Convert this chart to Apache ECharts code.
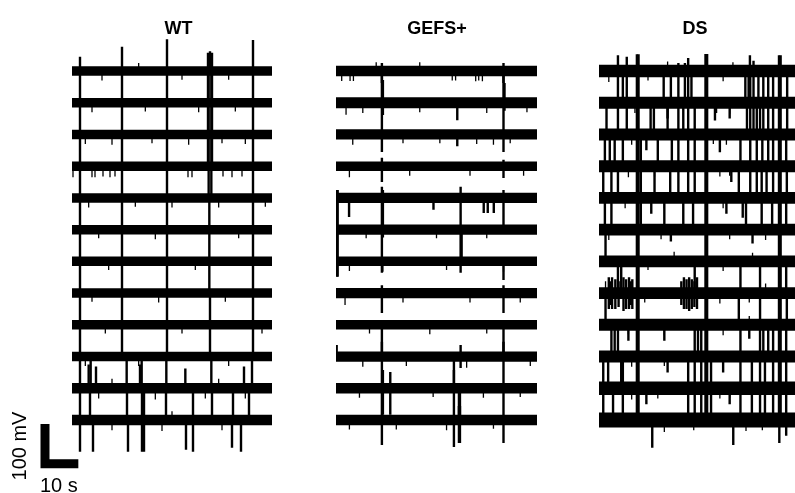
<!DOCTYPE html>
<html><head><meta charset="utf-8">
<script src="https://cdn.jsdelivr.net/npm/echarts/dist/echarts.min.js"></script>
<style>html,body{margin:0;padding:0;background:#fff}#c{width:795px;height:493px}</style>
</head><body><div id="c"></div>
<script>
// ---------------- DATA ----------------
const panelTitles = ['WT', 'GEFS+', 'DS'];
const ROW_STEP = 80;        // mV offset between stacked traces
const DURATION = 60;        // s per trace
const N_ROWS = 12;
const scaleBarMV = 100;
const scaleBarS = 10;
const scaleLabels = ['100 mV', '10 s'];

// half peak-to-peak noise of each trace (mV)
const wtNoise   = [12, 12, 12, 12, 12, 12, 12, 12, 12, 12, 13, 13];
const gefsNoise = [13, 14, 13, 12, 13, 13, 12, 13, 12, 13, 13, 13];
const dsNoise   = [16, 15, 15, 15, 15, 15, 15, 15, 15, 15, 17, 19];

// spike times (s) that span the whole gap between trace i and trace i+1
const wtGapSpikes = [
  [2.4, 15.0, 28.5, 41.0, 41.8, 54.3],
  [2.4, 15.0, 28.5, 41.0, 41.8, 54.3],
  [2.4, 15.0, 28.5, 41.0, 41.8, 54.3],
  [2.4, 15.0, 28.5, 41.0, 41.8, 54.3],
  [2.4, 15.0, 28.5, 41.2, 54.3],
  [2.4, 15.0, 28.5, 41.2, 54.3],
  [2.4, 15.0, 28.5, 41.2, 54.3],
  [2.4, 15.0, 28.5, 41.4, 54.3],
  [2.4, 15.0, 28.5, 41.4, 54.3],
  [2.4, 5.6, 16.4, 20.9, 28.3, 41.8, 54.0],
  [2.4, 5.4, 16.5, 21.0, 21.6, 28.2, 36.3, 42.0, 48.3, 53.1]
];
// other spikes: [time s, top mV, bottom mV] on the stacked axis
const wtSpikes = [
  [2.4, 0, 36], [15.0, 0, 61], [28.5, 0, 80], [40.8, 0, 46], [41.4, 0, 50], [42.0, 0, 46], [54.3, 0, 78],
  [40.8, 0, -240], [42.0, 0, -240],
  [5.0, -740, -800], [7.2, -745, -800], [20.4, -740, -800], [34.0, -750, -800], [51.6, -745, -800],
  [2.4, -880, -960], [6.3, -880, -960], [16.8, -880, -960], [21.0, -880, -960], [21.6, -880, -960],
  [34.2, -880, -955], [36.3, -880, -960], [48.0, -880, -950], [50.7, -880, -960]
];
// small blips: [trace, time s, extent mV from baseline]
const wtBlips = [
  [0, 9, -24], [0, 33, -22], [0, 47, -22], [0, 20, 20],
  [1, 6, -24], [1, 22, -22], [1, 38, -24], [1, 49, -22],
  [2, 4, -24], [2, 12, -26], [2, 24, -22], [2, 35, -26], [2, 45, -22], [2, 52, -24],
  [3, 0.3, -28], [3, 6, -28], [3, 6.9, -28], [3, 9.3, -26], [3, 11.4, -28], [3, 12.9, -26],
  [3, 34.8, -28], [3, 36, -28], [3, 45.3, -26], [3, 48, -28], [3, 51, -26],
  [4, 5, -24], [4, 19, -22], [4, 30, -24], [4, 44, -24], [4, 58, -22],
  [5, 8, -22], [5, 25, -24], [5, 50, -22],
  [6, 11, -22], [6, 37, -22], [7, 6, -22], [7, 26, -24], [7, 46, -22],
  [8, 10, -22], [8, 33, -22], [8, 57, -22], [9, 4, -24], [9, 20, -24], [9, 47, -24],
  [10, 8, -26], [10, 25, -28], [10, 40, -26], [10, 52, -26], [10, 12, 24], [10, 44, 24],
  [11, 12, -26], [11, 27, -28], [11, 45, -26], [11, 30, 22]
];

const gefsGapSpikes = [
  [13.7, 50.0], [13.7, 50.0], [], [], [0.2, 0.5, 13.7, 37.2, 50.0], [0.2, 0.5, 13.7, 37.2, 37.5], [],
  [], [13.7, 50.0], [13.7, 35.2, 50.0], [13.7, 35.2, 36.7, 37.0, 50.0]
];
const gefsSpikes = [
  [13.7, 20, -30], [50.0, 20, -30], [14.0, -23, -111], [50.3, -30, -100],
  [13.7, -160, -204], [50.0, -160, -204],
  [13.7, -219, -280], [50.0, -224, -270], [36.2, -86, -124], [36.2, -165, -190],
  [0.2, -300, -320], [0.5, -300, -320], [13.7, -292, -320], [14.0, -300, -420], [37.2, -292, -320], [50.0, -300, -320],
  [0.2, -480, -519], [0.5, -480, -519], [13.7, -480, -509], [37.2, -480, -509], [50.0, -480, -527],
  [3.9, -320, -368], [29.1, -320, -350], [44.1, -320, -358], [45.3, -320, -358], [47.1, -320, -358],
  [13.7, -540, -610], [50.0, -540, -610],
  [13.7, -683, -720], [50.0, -683, -720], [14.0, -754, -867], [16.2, -759, -867], [35.2, -754, -800],
  [13.7, -880, -943], [35.2, -880, -948], [36.7, -845, -938], [37.0, -845, -938], [50.0, -880, -938],
  [37.2, -691, -749], [0.2, -691, -721]
];
const gefsBlips = [
  [0, 1.7, -25], [0, 4.2, -25], [0, 5.2, -25], [0, 34.7, -24], [0, 35.7, -24], [0, 41.7, -26], [0, 42.6, -24], [0, 43.7, -26], [0, 12, 22], [0, 25, 22],
  [1, 3, -30], [1, 8, -26], [1, 25, -24], [1, 45, -26], [1, 57, -24],
  [2, 5, -26], [2, 20, -22], [2, 31, -22], [2, 42, -24], [2, 47, -26], [2, 52, -22],
  [3, 4, -28], [3, 22, -24], [3, 40, -24], [3, 56, -24],
  [5, 9, -22], [5, 30, -22], [5, 45, -22],
  [6, 4, -24], [6, 14, -26], [6, 33, -22], [6, 50, -26],
  [7, 2.7, -30], [7, 20, -24], [7, 40, -24], [7, 55, -24],
  [8, 10, -22], [8, 28, -24], [8, 45, -22],
  [9, 8, -26], [9, 21, -24], [9, 39, -28], [9, 58, -24],
  [10, 7, -24], [10, 29, -22], [10, 44, -24], [10, 55, -22],
  [11, 4, -24], [11, 18, -24], [11, 33, -26], [11, 47, -22]
];

const dsGapSpikes = [
  [5.8, 7.3, 8.5, 19.8, 22.0, 24.3, 26.3, 27.3, 28.3, 44.8, 45.8, 46.3, 47.3, 48.8, 50.3, 51.8, 53.3, 57.6],
  [2.3, 5.8, 8.5, 15.8, 16.8, 21.0, 24.3, 25.8, 27.3, 29.3, 45.3, 46.3, 47.3, 48.3, 49.3, 50.3, 51.8, 53.3, 57.6],
  [1.8, 3.3, 4.8, 7.3, 12.8, 18.0, 22.3, 24.3, 27.3, 29.3, 43.3, 46.3, 48.3, 50.0, 51.8, 53.3, 57.3],
  [1.3, 3.8, 5.8, 12.8, 17.0, 21.8, 24.3, 27.3, 29.3, 42.8, 46.3, 48.3, 49.8, 51.3, 53.3, 57.5],
  [1.8, 3.8, 12.8, 20.0, 25.8, 28.8, 45.0, 49.8, 53.0, 57.3],
  [2.0],
  [5.8, 6.8, 29.3, 43.3, 49.3, 57.3],
  [2.0, 42.8, 49.3, 57.5],
  [3.8, 4.8, 5.8, 29.3, 30.3, 31.3, 43.3, 49.3, 50.3, 51.8, 53.3, 57.3],
  [1.3, 2.8, 6.8, 7.3, 27.3, 29.3, 31.3, 34.3, 43.3, 46.8, 49.3, 50.8, 53.3, 57.3],
  [1.3, 4.3, 7.3, 27.3, 29.3, 31.3, 34.3, 43.3, 46.8, 49.3, 50.8, 53.3, 57.3]
];
const dsSpikes = [
  [5.8, 0, 40], [8.5, 0, 36], [11.6, 0, 42], [12.1, 0, 42], [24.3, 0, 20], [26.3, 0, 20], [27.3, 0, 33],
  [32.6, 0, 43], [33.1, 0, 43], [46.2, 0, 40], [47.3, 0, 26], [55.1, 0, 40], [55.6, 0, 40],
  [11.6, 0, -880], [12.1, 0, -880], [32.6, 0, -880], [33.1, 0, -880], [55.1, 0, -880], [55.6, 0, -880],
  [3.0, -520, -600], [4.0, -520, -600], [5.0, -525, -600], [7.5, -520, -605], [8.3, -525, -600], [9.2, -520, -600], [10.2, -525, -600],
  [3.5, -530, -590], [6.0, -530, -595], [9.7, -530, -590],
  [26.0, -520, -600], [26.8, -525, -600], [27.6, -520, -605], [28.4, -525, -600], [30.0, -520, -600], [25.2, -530, -590], [29.2, -530, -595],
  [21.0, -80, -120], [35.5, -80, -125], [40.0, -80, -120], [14.5, -160, -200], [37.0, -160, -205], [40.5, -240, -280],
  [16.0, -320, -360], [39.0, -320, -360], [44.0, -330, -370], [22.0, -400, -430], [47.0, -400, -435],
  [9.0, -640, -680], [20.0, -640, -680], [46.0, -640, -675], [21.0, -720, -760], [38.0, -720, -760], [14.5, -800, -840], [40.0, -800, -840],
  [16.3, -880, -950], [41.1, -880, -943], [55.2, -880, -938], [57.3, -880, -920]
];
const dsBlips = [
  [0, 3, -28], [0, 15, -24], [0, 38, -26], [0, 21, 24], [0, 41, 22],
  [1, 11, -26], [1, 21, -24], [1, 36, -26], [1, 40, -28],
  [2, 10, -26], [2, 18, -26], [2, 35, -24], [2, 39, -26],
  [3, 9, -28], [3, 17, -26], [3, 37, -26], [3, 40, -24],
  [4, 8, -26], [4, 20, -26], [4, 38, -26], [4, 44, -24],
  [5, 3, -26], [5, 19, -24], [5, 40, -24], [5, 51, -26],
  [6, 15, -22], [6, 23, 24], [6, 38, -24], [6, 47, 22],
  [7, 2, 30], [7, 14, -24], [7, 37, -26], [7, 46, -24], [7, 51, 24],
  [8, 9, -24], [8, 20, -26], [8, 38, -26], [8, 46, 22],
  [9, 10, -26], [9, 20, -24], [9, 38, -26],
  [10, 10, -28], [10, 18, -26], [10, 37, -26], [10, 40, -24],
  [11, 20, -30], [11, 29, -26], [11, 45, -28], [11, 50, -26]
];

// ---------------- CHART ----------------
const chart = echarts.init(document.getElementById('c'));
const Y_MAX = 100, Y_MIN = -(ROW_STEP * (N_ROWS - 1) + 100);
const pxPerMV = 349 / (ROW_STEP * (N_ROWS - 1));
const gridTop = 71 - Y_MAX * pxPerMV;
const gridH = (Y_MAX - Y_MIN) * pxPerMV;
const lefts = [72, 336, 599];
const widths = [200, 201, 200];
const titleX = [173.5, 432, 690];
const noises = [wtNoise, gefsNoise, dsNoise];
const gapLists = [wtGapSpikes, gefsGapSpikes, dsGapSpikes];
const spikeLists = [wtSpikes, gefsSpikes, dsSpikes];
const blipLists = [wtBlips, gefsBlips, dsBlips];

const grids = [], xAxes = [], yAxes = [], series = [], titles = [];
for (let p = 0; p < 3; p++) {
  grids.push({left: lefts[p], top: gridTop, width: widths[p], height: gridH});
  xAxes.push({type: 'value', gridIndex: p, min: 0, max: DURATION, show: false});
  yAxes.push({type: 'value', gridIndex: p, min: Y_MIN, max: Y_MAX, show: false});
  titles.push({text: panelTitles[p], left: titleX[p], top: 15, textAlign: 'center',
    textStyle: {fontSize: 18, fontWeight: 'bold', color: '#000', fontFamily: 'Liberation Sans, Arial, sans-serif'}});

  const bandData = noises[p].map((a, i) => [i, a]);
  series.push({
    type: 'custom', xAxisIndex: p, yAxisIndex: p, data: bandData, clip: true, silent: true,
    renderItem: (params, api) => {
      const base = -ROW_STEP * api.value(0), a = api.value(1);
      const p1 = api.coord([0, base + a]), p2 = api.coord([DURATION, base - a]);
      return {type: 'rect', shape: {x: p1[0], y: p1[1], width: p2[0] - p1[0], height: p2[1] - p1[1]}, style: {fill: '#000'}};
    }
  });
  const sp = [];
  gapLists[p].forEach((ts, g) => ts.forEach(t => sp.push([t, -ROW_STEP * g, -ROW_STEP * (g + 1)])));
  spikeLists[p].forEach(s => sp.push(s));
  series.push({
    type: 'custom', xAxisIndex: p, yAxisIndex: p, data: sp, clip: true, silent: true,
    encode: {x: 0, y: [1, 2]},
    renderItem: (params, api) => {
      const a = api.coord([api.value(0), api.value(1)]), b = api.coord([api.value(0), api.value(2)]);
      return {type: 'line', shape: {x1: a[0], y1: a[1], x2: b[0], y2: b[1]}, style: {stroke: '#000', lineWidth: 2.4}};
    }
  });
  series.push({
    type: 'custom', xAxisIndex: p, yAxisIndex: p, data: blipLists[p], clip: true, silent: true,
    renderItem: (params, api) => {
      const base = -ROW_STEP * api.value(0);
      const a = api.coord([api.value(1), base]), b = api.coord([api.value(1), base + api.value(2)]);
      return {type: 'line', shape: {x1: a[0], y1: a[1], x2: b[0], y2: b[1]}, style: {stroke: '#000', lineWidth: 1.3}};
    }
  });
}
// scale bar grid
const sbW = scaleBarS / DURATION * 200, sbH = scaleBarMV * pxPerMV;
grids.push({left: 45, top: 424, width: sbW, height: sbH});
xAxes.push({type: 'value', gridIndex: 3, min: 0, max: scaleBarS, show: false});
yAxes.push({type: 'value', gridIndex: 3, min: 0, max: scaleBarMV, show: false});
series.push({type: 'line', xAxisIndex: 3, yAxisIndex: 3, data: [[0, scaleBarMV], [0, 0], [scaleBarS, 0]], symbol: 'none', clip: false,
  lineStyle: {color: '#000', width: 9, cap: 'butt', join: 'miter'}, silent: true});

chart.setOption({
  animation: false,
  backgroundColor: '#fff',
  title: titles,
  grid: grids, xAxis: xAxes, yAxis: yAxes, series: series,
  graphic: [
    {type: 'text', x: 20, y: 446, rotation: Math.PI / 2,
      style: {text: scaleLabels[0], fontSize: 20, fill: '#000', align: 'center', verticalAlign: 'middle', fontFamily: 'Liberation Sans, Arial, sans-serif'}},
    {type: 'text', x: 40, y: 476,
      style: {text: scaleLabels[1], fontSize: 20, fill: '#000', align: 'left', verticalAlign: 'top', fontFamily: 'Liberation Sans, Arial, sans-serif'}}
  ]
});
</script></body></html>
